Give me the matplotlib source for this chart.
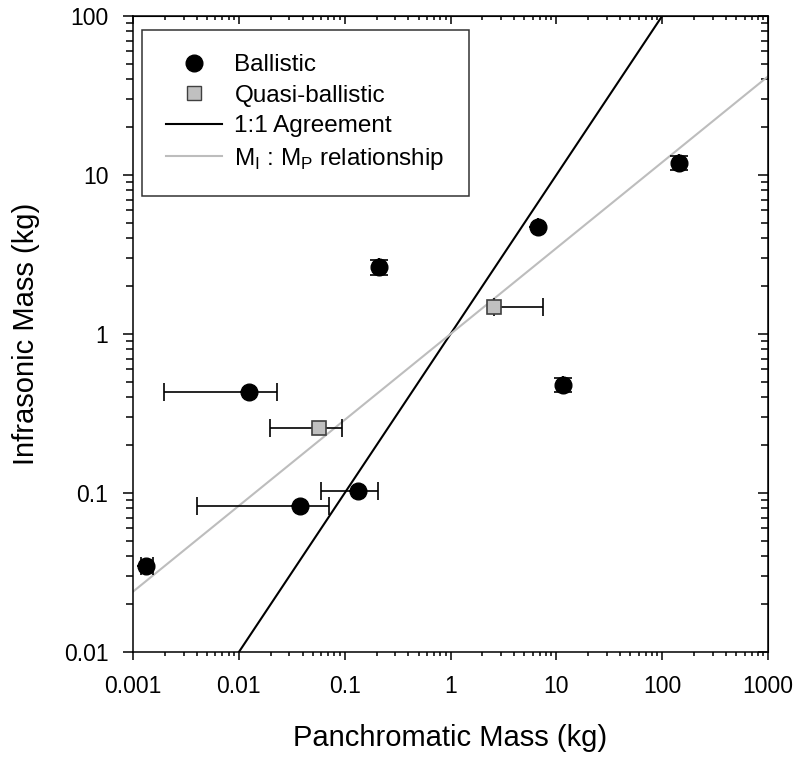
import numpy as np
import matplotlib
matplotlib.use("Agg")
import matplotlib.pyplot as plt
from matplotlib.lines import Line2D

plt.rcParams["font.family"] = ["Liberation Sans", "DejaVu Sans"]
plt.rcParams["mathtext.fontset"] = "custom"
plt.rcParams["mathtext.rm"] = "Liberation Sans"

# ballistic events: panchromatic mass, infrasonic mass, x error (lo, hi), y error (lo, hi)
ball_pm = [0.00133, 0.0125, 0.038, 0.134, 0.211, 6.7, 145, 11.6]
ball_im = [0.0348, 0.431, 0.083, 0.103, 2.64, 4.71, 11.9, 0.478]
ball_x_lo = [0.0012, 0.00196, 0.004, 0.060, 0.211, 6.7, 145, 11.6]
ball_x_hi = [0.00155, 0.023, 0.0713, 0.207, 0.211, 6.7, 145, 11.6]
ball_y_lo = [0.0348, 0.431, 0.083, 0.103, 2.35, 4.71, 10.8, 0.43]
ball_y_hi = [0.0348, 0.431, 0.083, 0.103, 2.92, 4.71, 13.2, 0.53]

# quasi-ballistic events
quasi_pm = [0.0573, 2.58]
quasi_im = [0.256, 1.48]
quasi_x_lo = [0.0197, 2.58]
quasi_x_hi = [0.0944, 7.5]

# power-law fit M_I = M_P ** slope
fit_slope = 0.54
fit_x = [0.001, 1000]
one_x = [0.001, 1000]


def asym(vals, lo, hi):
    v = np.array(vals)
    return [v - np.array(lo), np.array(hi) - v]


fig = plt.figure(figsize=(7.98, 7.6), dpi=100)
ax = fig.add_axes([0.1667, 0.142, 0.7957, 0.837])

ax.plot(one_x, one_x, color="black", lw=1.5, zorder=2)
ax.plot(fit_x, np.array(fit_x) ** fit_slope, color="#bdbdbd", lw=1.5, zorder=2)

ax.errorbar(ball_pm, ball_im,
            xerr=asym(ball_pm, ball_x_lo, ball_x_hi),
            yerr=asym(ball_im, ball_y_lo, ball_y_hi),
            fmt="o", ms=12, mfc="black", mec="black", ecolor="black",
            elinewidth=1.2, capsize=6.5, capthick=1.2, zorder=3)
ax.errorbar(quasi_pm, quasi_im,
            xerr=asym(quasi_pm, quasi_x_lo, quasi_x_hi),
            fmt="s", ms=9.5, mfc="#c0c0c0", mec="#404040", mew=1.2, ecolor="black",
            elinewidth=1.2, capsize=6.5, capthick=1.2, zorder=4)

ax.set_xscale("log")
ax.set_yscale("log")
ax.set_xlim(0.001, 1000)
ax.set_ylim(0.01, 100)

xt = [0.001, 0.01, 0.1, 1, 10, 100, 1000]
yt = [0.01, 0.1, 1, 10, 100]
ax.set_xticks(xt)
ax.set_xticklabels(["0.001", "0.01", "0.1", "1", "10", "100", "1000"])
ax.set_yticks(yt)
ax.set_yticklabels(["0.01", "0.1", "1", "10", "100"])

ax.tick_params(which="both", direction="out", labelsize=16.5, width=1.1)
ax.tick_params(axis="x", which="major", length=5.8, pad=10.5)
ax.tick_params(axis="x", which="minor", length=2.9)
ax.tick_params(axis="y", which="major", length=7.2, pad=10.5)
ax.tick_params(axis="y", which="minor", length=5)
for s in ax.spines.values():
    s.set_linewidth(1.1)

# inward ticks on top and right
tx = ax.secondary_xaxis("top")
tx.set_xticks(xt)
tx.tick_params(which="both", direction="in", labeltop=False, width=1.1)
tx.tick_params(which="major", length=5.8)
tx.tick_params(which="minor", length=2.9)
ty = ax.secondary_yaxis("right")
ty.set_yticks(yt)
ty.tick_params(which="both", direction="in", labelright=False, width=1.1)
ty.tick_params(which="major", length=7.2)
ty.tick_params(which="minor", length=5)

ax.set_xlabel("Panchromatic Mass (kg)", fontsize=21, labelpad=19)
ax.set_ylabel("Infrasonic Mass (kg)", fontsize=21, labelpad=17)

handles = [
    Line2D([], [], ls="none", marker="o", ms=12, mfc="black", mec="black"),
    Line2D([], [], ls="none", marker="s", ms=9.5, mfc="#c0c0c0", mec="#404040"),
    Line2D([], [], color="black", lw=1.5),
    Line2D([], [], color="#bdbdbd", lw=1.5),
]
labels = ["Ballistic", "Quasi-ballistic", "1:1 Agreement",
          r"M$_\mathregular{I}$ : M$_\mathregular{P}$ relationship"]
leg = ax.legend(handles, labels, loc="upper left", bbox_to_anchor=(0.0142, 0.978),
                borderaxespad=0, fontsize=17.5, frameon=True, fancybox=False,
                edgecolor="black", borderpad=1.0, handlelength=2.3,
                handletextpad=0.5, labelspacing=0.35)
leg.get_frame().set_linewidth(1.1)

fig.savefig("out.png", dpi=100)
